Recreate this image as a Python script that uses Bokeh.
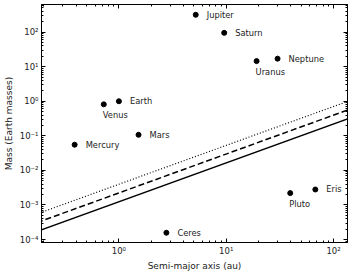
from bokeh.plotting import figure
from bokeh.models import LogAxis, CustomJSTickFormatter, LogTicker
from bokeh.core.properties import value
from bokeh.embed import file_html
from bokeh.resources import INLINE

# Data (semi-major axis in au, mass in Earth masses)
names = ["Mercury", "Venus", "Earth", "Mars", "Ceres", "Jupiter", "Saturn",
         "Uranus", "Neptune", "Pluto", "Eris"]
semi_major = [0.387, 0.723, 1.0, 1.524, 2.77, 5.20, 9.58, 19.2, 30.1, 39.5, 67.7]
mass = [0.0553, 0.815, 1.0, 0.107, 0.000157, 317.8, 95.2, 14.5, 17.1, 0.0022, 0.0028]
below_names = ["Venus", "Uranus", "Pluto"]

# Threshold lines (endpoints)
a_line = [0.1, 1000.0]
m_solid = [9.3e-5, 2.94]
m_dashed = [1.67e-4, 5.3]
m_dotted = [2.98e-4, 9.4]

FONT = "DejaVu Sans"

p = figure(width=350, height=274, x_axis_type="log", y_axis_type="log",
           x_range=(0.19, 135), y_range=(8.2e-5, 630),
           output_backend="svg", toolbar_location=None,
           min_border_left=30, min_border_right=0, min_border_top=0, min_border_bottom=32)
p.grid.visible = False
p.outline_line_color = "black"
p.outline_line_width = 1
p.background_fill_color = "white"
p.border_fill_color = "white"

sup_js = """
const e = Math.round(Math.log10(tick));
const m = {'-':'\u207b','0':'\u2070','1':'\u00b9','2':'\u00b2','3':'\u00b3','4':'\u2074','5':'\u2075','6':'\u2076','7':'\u2077','8':'\u2078','9':'\u2079'};
return '10' + String(e).split('').map(c => m[c]).join('');
"""

def style_axis(ax, labels=True):
    ax.axis_line_color = "black"
    ax.axis_line_width = 1
    ax.major_tick_in = 4
    ax.major_tick_out = 0
    ax.minor_tick_in = 2
    ax.minor_tick_out = 0
    ax.major_tick_line_color = "black"
    ax.minor_tick_line_color = "black"
    ax.ticker.num_minor_ticks = 10
    if labels:
        ax.formatter = CustomJSTickFormatter(code=sup_js)
        ax.major_label_text_font = FONT
        ax.major_label_text_font_size = "8.5px"
        ax.major_label_text_color = "#222222"
        ax.axis_label_text_font = FONT
        ax.axis_label_text_font_size = "9px"
        ax.axis_label_text_font_style = "normal"
        ax.axis_label_text_color = "#222222"
    else:
        ax.formatter = CustomJSTickFormatter(code="return ' ';")
        ax.major_label_text_font_size = "1px"
        ax.major_label_standoff = 0

xa = p.xaxis[0]
ya = p.yaxis[0]
style_axis(xa)
style_axis(ya)
xa.axis_label = "Semi-major axis (au)"
ya.axis_label = "Mass (Earth masses)"
xa.major_label_standoff = 3
xa.axis_label_standoff = 2
ya.major_label_standoff = 3
ya.axis_label_standoff = 3

top = LogAxis(ticker=LogTicker())
right = LogAxis(ticker=LogTicker())
style_axis(top, labels=False)
style_axis(right, labels=False)
p.add_layout(top, "above")
p.add_layout(right, "right")

p.line(a_line, m_solid, line_color="black", line_width=1.5)
p.line(a_line, m_dashed, line_color="black", line_width=1.5, line_dash="6 3")
p.line(a_line, m_dotted, line_color="black", line_width=1.2, line_dash="1 2")

p.scatter(semi_major, mass, size=5, fill_color="black", line_color="black")

rx, ry, rn, bx, by, bn = [], [], [], [], [], []
for n, a, m in zip(names, semi_major, mass):
    if n in below_names:
        bx.append(a); by.append(m); bn.append(n)
    else:
        rx.append(a); ry.append(m); rn.append(n)

p.text(rx, ry, text=rn, x_offset=11, y_offset=0, text_baseline="middle",
       text_align="left", text_font=value(FONT), text_font_size="8.3px",
       text_color="#222222")
p.text(bx, by, text=bn, x_offset=-1, y_offset=6, text_baseline="top",
       text_align="left", text_font=value(FONT), text_font_size="8.3px",
       text_color="#222222")

open("out.html", "w").write(file_html(p, INLINE))
